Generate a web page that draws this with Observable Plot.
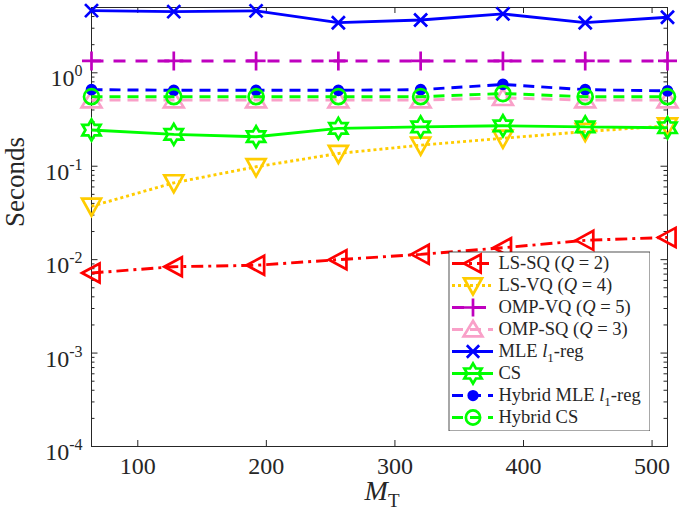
<!DOCTYPE html>
<html><head><meta charset="utf-8">
<script src="https://cdn.jsdelivr.net/npm/d3@7"></script>
<script src="https://cdn.jsdelivr.net/npm/@observablehq/plot@0.6"></script>
<style>
body{margin:0;background:#fff;}
#wrap{position:relative;width:681px;height:518px;}
#wrap svg{position:absolute;margin:0;}
</style></head><body><div id="wrap"></div>
<script>
// ---------- data ----------
const MT = [64, 128, 192, 256, 320, 384, 448, 512];
const lsSQ   = [0.0072, 0.0084, 0.0087, 0.0100, 0.0114, 0.0134, 0.0161, 0.0173];
const lsVQ   = [0.0373, 0.0664, 0.0986, 0.137, 0.168, 0.199, 0.235, 0.270];
const ompVQ  = [1.34, 1.34, 1.34, 1.34, 1.34, 1.34, 1.34, 1.34];
const ompSQ  = [0.51, 0.51, 0.51, 0.51, 0.51, 0.54, 0.51, 0.51];
const mleL1  = [4.63, 4.52, 4.60, 3.44, 3.68, 4.27, 3.44, 3.93];
const csVals = [0.244, 0.219, 0.207, 0.254, 0.264, 0.271, 0.264, 0.258];
const hybMLE = [0.66, 0.65, 0.65, 0.65, 0.66, 0.75, 0.66, 0.64];
const hybCS  = [0.555, 0.555, 0.555, 0.555, 0.555, 0.60, 0.555, 0.555];
const seriesLabels = ["LS-SQ (<i>Q</i> = 2)", "LS-VQ (<i>Q</i> = 4)", "OMP-VQ (<i>Q</i> = 5)", "OMP-SQ (<i>Q</i> = 3)",
  "MLE <i>l</i>_{1}-reg", "CS", "Hybrid MLE <i>l</i>_{1}-reg", "Hybrid CS"];
const seriesValues = [lsSQ, lsVQ, ompVQ, ompSQ, mleL1, csVals, hybMLE, hybCS];
const xTicks = [100, 200, 300, 400, 500];
const yMajor = [1e-4, 1e-3, 1e-2, 1e-1, 1];
const yMinor = [2,3,4,5,6,7,8,9].flatMap(m => [-4,-3,-2,-1].map(e => m * 10 ** e)).concat([2,3,4,5]);
const yTickLabels = ["10^{-4}", "10^{-3}", "10^{-2}", "10^{-1}", "10^{0}"];
const xLabel = "<i>M</i>_{T}";
const yLabel = "Seconds";

// ---------- symbols ----------
const R = s => Math.sqrt(s / Math.PI);
const symbols = {
  left: {draw(c, s){const r=R(s); c.moveTo(-r,0); c.lineTo(r*0.85,-r); c.lineTo(r*0.85,r); c.closePath();}},
  down: {draw(c, s){const r=R(s); c.moveTo(0,r); c.lineTo(-r,-r*0.8); c.lineTo(r,-r*0.8); c.closePath();}},
  up:   {draw(c, s){const r=R(s); c.moveTo(0,-r); c.lineTo(-r*1.1,r*0.8); c.lineTo(r*1.1,r*0.8); c.closePath();}},
  plus: {draw(c, s){const r=R(s); c.moveTo(-r,0); c.lineTo(r,0); c.moveTo(0,-r); c.lineTo(0,r);}},
  times:{draw(c, s){const r=R(s); c.moveTo(-r,-r); c.lineTo(r,r); c.moveTo(-r,r); c.lineTo(r,-r);}},
  hexa: {draw(c, s){const r=R(s), ri=r/Math.sqrt(3);
    for (let i=0;i<12;i++){const a=-Math.PI/2+i*Math.PI/6, rr=i%2?ri:r; const px=rr*Math.cos(a), py=rr*Math.sin(a); i?c.lineTo(px,py):c.moveTo(px,py);} c.closePath();}},
  circle:{draw(c, s){const r=R(s); c.moveTo(r,0); c.arc(0,0,r,0,2*Math.PI); c.closePath();}}
};
const styles = [
  {color:"#ff0000", dash:"12,5,3,5", sym:symbols.left,  r:9.5, fill:"none"},
  {color:"#ffcc00", dash:"3,3",      sym:symbols.down,  r:9.5, fill:"none"},
  {color:"#bf00bf", dash:"12,10",    sym:symbols.plus,  r:9.5, fill:"none"},
  {color:"#f9a0c8", dash:"11,7",     sym:symbols.up,    r:9,   fill:"none"},
  {color:"#0000ff", dash:null,       sym:symbols.times, r:6.5, fill:"none"},
  {color:"#00ff00", dash:null,       sym:symbols.hexa,  r:10.5,fill:"none"},
  {color:"#0000ff", dash:"11,7",     sym:symbols.circle,r:4.5, fill:"#0000ff"},
  {color:"#00ff00", dash:"11,7",     sym:symbols.circle,r:7.5, fill:"none"}
];

// ---------- rich text helper ----------
function rich(el, markup, o) {
  while (el.firstChild) el.removeChild(el.firstChild);
  const re = /<i>(.*?)<\/i>|\^\{(.*?)\}|_\{(.*?)\}|([^<^_]+)/g;
  let shift = 0, m;
  while ((m = re.exec(markup))) {
    const ts = document.createElementNS("http://www.w3.org/2000/svg", "tspan");
    let target = 0;
    if (m[1] !== undefined) { ts.textContent = m[1]; ts.setAttribute("font-style", "italic"); }
    else if (m[2] !== undefined) { ts.textContent = m[2]; target = -o.sup; ts.setAttribute("font-size", o.supSize); }
    else if (m[3] !== undefined) { ts.textContent = m[3]; target = o.sub; ts.setAttribute("font-size", o.subSize); }
    else ts.textContent = m[4];
    if (target !== shift) { ts.setAttribute("dy", target - shift); shift = target; }
    el.appendChild(ts);
  }
}
const strip = s => s.replace(/<\/?i>/g, "").replace(/[\^_]\{(.*?)\}/g, "$1");
function richGroup(svg, tag, items, o) {
  let texts = Array.from(svg.querySelectorAll(`[aria-description="${tag}"] text`));
  if (texts.length !== items.length) {
    const all = Array.from(svg.querySelectorAll("text")).filter(t => !t.dataset.rich);
    texts = items.map(it => {
      const cands = all.filter(t => t.textContent === strip(it) && !t.dataset.rich);
      const t = cands.find(c => (c.closest("g") || {}).getAttribute?.("text-anchor") === o.anchor) || cands[0];
      if (t) t.dataset.rich = "1";
      return t;
    });
  }
  texts.forEach((t, i) => { if (t) { t.dataset.rich = "1"; rich(t, items[i], o); } });
}

// ---------- main plot ----------
const W = 681, H = 518, mL = 91, mR = 14, mT = 7, mB = 72;
const innerW = W - mL - mR, innerH = H - mT - mB;
const ink = "#262626";
const font = "Liberation Serif, Times New Roman, serif";

const marks = [
  Plot.frame({stroke: ink, strokeWidth: 1}),
  Plot.ruleX(xTicks, {x: d => d, stroke: ink, strokeWidth: 1, insetTop: innerH - 6}),
  Plot.ruleX(xTicks, {x: d => d, stroke: ink, strokeWidth: 1, insetBottom: innerH - 6}),
  Plot.ruleY(yMajor, {y: d => d, stroke: ink, strokeWidth: 1, insetRight: innerW - 6.5}),
  Plot.ruleY(yMajor, {y: d => d, stroke: ink, strokeWidth: 1, insetLeft: innerW - 6.5}),
  Plot.ruleY(yMinor, {y: d => d, stroke: ink, strokeWidth: 1, insetRight: innerW - 3.5}),
  Plot.ruleY(yMinor, {y: d => d, stroke: ink, strokeWidth: 1, insetLeft: innerW - 3.5}),
];
seriesValues.forEach((vals, k) => {
  const st = styles[k];
  const rows = MT.map((x, i) => ({x, y: vals[i]}));
  marks.push(Plot.line(rows, {x: "x", y: "y", stroke: st.color, strokeWidth: 2.9,
    strokeDasharray: st.dash || undefined, strokeLinecap: "butt", strokeLinejoin: "miter"}));
  marks.push(Plot.dot(rows, {x: "x", y: "y", symbol: st.sym, r: st.r, stroke: st.color,
    fill: st.fill, strokeWidth: 2.7}));
});
marks.push(
  Plot.text(yMajor, {y: d => d, frameAnchor: "left", dx: -9, dy: 6, textAnchor: "end",
    text: (d, i) => strip(yTickLabels[i]), fontSize: 24, fill: ink, fontFamily: font, ariaDescription: "ytick-labels"}),
  Plot.text([xLabel], {x: () => 290, frameAnchor: "bottom", dy: 53, text: strip,
    fontSize: 28, fill: ink, fontFamily: font, ariaDescription: "xlabel"}),
  Plot.text(xTicks, {x: d => d, frameAnchor: "bottom", dy: 27, text: d => String(d),
    fontSize: 24, fill: ink, fontFamily: font}),
  Plot.text([yLabel], {frameAnchor: "left", dx: -76, rotate: -90, text: d => d,
    fontSize: 27, fill: ink, fontFamily: font})
);

const main = Plot.plot({
  width: W, height: H, marginLeft: mL, marginRight: mR, marginTop: mT, marginBottom: mB,
  x: {domain: [64, 512], axis: null},
  y: {type: "log", domain: [1e-4, 5], axis: null},
  style: {background: "white", fontFamily: font},
  marks
});
richGroup(main, "ytick-labels", yTickLabels, {sup: 10, supSize: 16, sub: 0, subSize: 16, anchor: "end"});
richGroup(main, "xlabel", [xLabel], {sup: 0, supSize: 18, sub: 7, subSize: 19, anchor: "middle"});
main.style.left = "0px"; main.style.top = "0px";
document.getElementById("wrap").appendChild(main);

// ---------- legend ----------
const LW = 202, LH = 180;
const lmarks = [Plot.frame({fill: "white", stroke: ink, strokeWidth: 0.8, inset: 0.5})];
seriesLabels.forEach((lab, k) => {
  const st = styles[k];
  lmarks.push(Plot.ruleY([lab], {y: d => d, x1: () => 0, x2: () => 1, stroke: st.color, strokeWidth: 2.9,
    strokeDasharray: st.dash || undefined}));
  lmarks.push(Plot.dot([lab], {y: d => d, x: () => 0.5, symbol: st.sym, r: st.r * 0.95, stroke: st.color,
    fill: st.fill, strokeWidth: 2.7}));
});
lmarks.push(Plot.text(seriesLabels, {y: d => d, x: () => 1, dx: 5, textAnchor: "start", text: strip,
  fontSize: 18.5, fill: ink, fontFamily: font, ariaDescription: "legend-text"}));
const legend = Plot.plot({
  width: LW, height: LH, margin: 0,
  x: {domain: [0, 1], range: [4, 45], axis: null},
  y: {type: "point", domain: seriesLabels, range: [12, 166], padding: 0, axis: null},
  style: {background: "transparent", fontFamily: font},
  marks: lmarks
});
richGroup(legend, "legend-text", seriesLabels, {sup: 0, supSize: 13, sub: 5, subSize: 13, anchor: "start"});
legend.style.left = "448px"; legend.style.top = "251px";
document.getElementById("wrap").appendChild(legend);
</script></body></html>
